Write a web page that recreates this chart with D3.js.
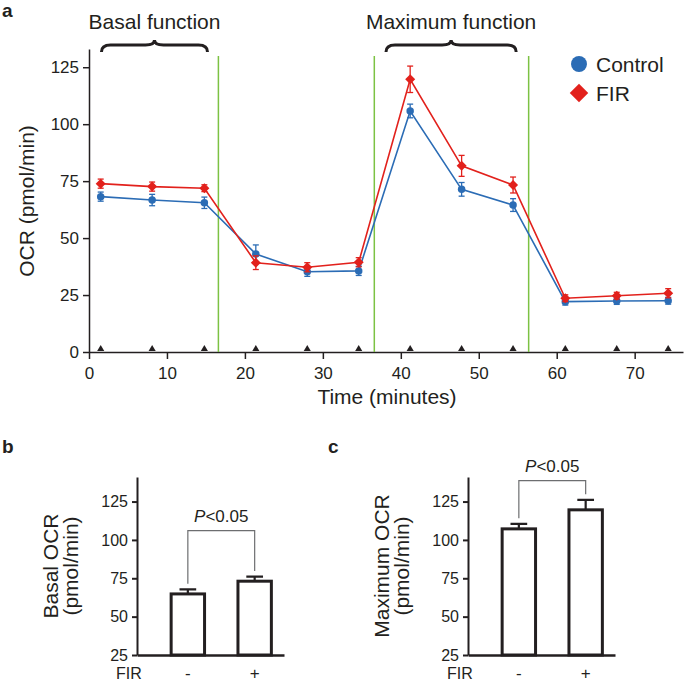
<!DOCTYPE html>
<meta charset="utf-8">
<head>
  <title>OCR time course</title>
</head>

<style>
body { margin: 0; background: white; }
text {
  font-family: Arial, "Liberation Sans", Helvetica, sans-serif;
  fill: #231f20;
}
.axis path, .axis line { stroke: #231f20; }
.axis text { font-size: 16px; fill: #231f20; font-family: Arial, "Liberation Sans", sans-serif; }
</style>

<body>
  <svg width="685" height="682"></svg>

  <script src="https://cdnjs.cloudflare.com/ajax/libs/d3/7.8.5/d3.min.js"></script>
  <script>
// panel a: time course
var times = [1.5, 8.1, 14.8, 21.4, 28.0, 34.6, 41.2, 47.8, 54.4, 61.1, 67.7, 74.3];
var controlOCR = [68.2, 66.7, 65.5, 43.0, 35.2, 35.6, 105.8, 71.4, 64.5, 22.1, 22.4, 22.5];
var controlErr = [2.0, 2.5, 2.5, 4.0, 2.0, 2.0, 3.0, 3.0, 2.8, 1.5, 1.5, 1.5];
var firOCR = [73.9, 72.6, 71.9, 39.2, 37.2, 39.4, 119.7, 81.7, 73.3, 23.6, 24.7, 25.8];
var firErr = [2.0, 2.0, 1.5, 3.0, 2.0, 2.0, 5.8, 4.6, 3.5, 1.5, 1.5, 2.0];
var injections = [16.6, 36.6, 56.4];
var phases = [
  { name: "Basal function", from: 1.6, to: 15.2 },
  { name: "Maximum function", from: 38.1, to: 54.8 }
];
var timeTicks = [0, 10, 20, 30, 40, 50, 60, 70];
var ocrTicks = [0, 25, 50, 75, 100, 125];

// panels b and c
var firGroups = ["-", "+"];
var basalOCR = [64.8, 73.1];
var basalErr = [3.0, 3.0];
var maxOCR = [107.2, 119.6];
var maxErr = [3.3, 6.5];
var barTicks = [25, 50, 75, 100, 125];

var blue = "#2b6cb5", red = "#e2211c", green = "#7cc243", ink = "#231f20";

var svg = d3.select("svg");

// ---------- panel a ----------
var x = d3.scaleLinear().domain([0, 76.2]).range([89, 683]);
var y = d3.scaleLinear().domain([0, 133]).range([352, 49]);

var ga = svg.append("g");

ga.append("g").attr("class", "axis")
  .attr("transform", "translate(0," + y(0) + ")")
  .call(d3.axisBottom(x).tickValues(timeTicks).tickSize(7).tickPadding(8).tickSizeOuter(0))
  .call(function(g) {
    g.selectAll("path, line").attr("stroke-width", 1.5);
    g.selectAll("text").style("font-size", "17px");
  });

ga.append("g").attr("class", "axis")
  .attr("transform", "translate(" + x(0) + ",0)")
  .call(d3.axisLeft(y).tickValues(ocrTicks).tickSize(6).tickPadding(4).tickSizeOuter(0))
  .call(function(g) {
    g.selectAll("path, line").attr("stroke-width", 1.5);
    g.selectAll("text").style("font-size", "17px");
  });

// injection lines
ga.selectAll(".inj").data(injections).enter().append("line")
  .attr("x1", function(d) { return x(d); })
  .attr("x2", function(d) { return x(d); })
  .attr("y1", 56)
  .attr("y2", y(0))
  .attr("stroke", green)
  .attr("stroke-width", 1.5);

// measurement markers on the time axis
ga.selectAll(".tri").data(times).enter().append("path")
  .attr("d", d3.symbol(d3.symbolTriangle, 22))
  .attr("transform", function(d) { return "translate(" + x(d) + "," + (y(0) - 3) + ")"; })
  .attr("fill", ink);

function brace(x1, x2, yy) {
  var xm = (x1 + x2) / 2;
  return "M" + x1 + "," + (yy + 7) +
    "Q" + x1 + "," + yy + " " + (x1 + 9) + "," + yy +
    "L" + (xm - 9) + "," + yy +
    "Q" + xm + "," + yy + " " + xm + "," + (yy - 5) +
    "Q" + xm + "," + yy + " " + (xm + 9) + "," + yy +
    "L" + (x2 - 9) + "," + yy +
    "Q" + x2 + "," + yy + " " + x2 + "," + (yy + 7);
}

ga.selectAll(".brace").data(phases).enter().append("path")
  .attr("d", function(d) { return brace(x(d.from), x(d.to), 45); })
  .attr("fill", "none")
  .attr("stroke", ink)
  .attr("stroke-width", 3);

ga.selectAll(".phase").data(phases).enter().append("text")
  .attr("x", function(d) { return (x(d.from) + x(d.to)) / 2; })
  .attr("y", 29)
  .attr("text-anchor", "middle")
  .style("font-size", "21px")
  .text(function(d) { return d.name; });

function series(values, errs, color, shape) {
  var pts = times.map(function(t, i) { return { t: t, v: values[i], e: errs[i] }; });
  var g = ga.append("g");
  g.append("path")
    .datum(pts)
    .attr("fill", "none")
    .attr("stroke", color)
    .attr("stroke-width", 1.6)
    .attr("d", d3.line().x(function(d) { return x(d.t); }).y(function(d) { return y(d.v); }));
  var eb = g.selectAll(".eb").data(pts).enter().append("g").attr("stroke", color).attr("stroke-width", 1.3);
  eb.append("line")
    .attr("x1", function(d) { return x(d.t); }).attr("x2", function(d) { return x(d.t); })
    .attr("y1", function(d) { return y(d.v - d.e); }).attr("y2", function(d) { return y(d.v + d.e); });
  [-1, 1].forEach(function(s) {
    eb.append("line")
      .attr("x1", function(d) { return x(d.t) - 3; }).attr("x2", function(d) { return x(d.t) + 3; })
      .attr("y1", function(d) { return y(d.v + s * d.e); }).attr("y2", function(d) { return y(d.v + s * d.e); });
  });
  g.selectAll(".pt").data(pts).enter().append("path")
    .attr("d", d3.symbol(shape, shape === d3.symbolCircle ? 44 : 50))
    .attr("transform", function(d) {
      return "translate(" + x(d.t) + "," + y(d.v) + ")" + (shape === d3.symbolSquare ? " rotate(45)" : "");
    })
    .attr("fill", color);
}

series(controlOCR, controlErr, blue, d3.symbolCircle);
series(firOCR, firErr, red, d3.symbolSquare);

// legend
var legend = [
  { name: "Control", color: blue, shape: d3.symbolCircle, size: 200 },
  { name: "FIR", color: red, shape: d3.symbolSquare, size: 170 }
];
var lg = svg.selectAll(".lg").data(legend).enter().append("g")
  .attr("transform", function(d, i) { return "translate(579," + (64 + i * 29) + ")"; });
lg.append("path")
  .attr("d", function(d) { return d3.symbol(d.shape, d.size)(); })
  .attr("transform", function(d) { return d.shape === d3.symbolSquare ? "rotate(45)" : null; })
  .attr("fill", function(d) { return d.color; });
lg.append("text")
  .attr("x", 17).attr("y", 7.5)
  .style("font-size", "21px")
  .text(function(d) { return d.name; });

ga.append("text")
  .attr("transform", "translate(34,201) rotate(-90)")
  .attr("text-anchor", "middle")
  .style("font-size", "21px")
  .text("OCR (pmol/min)");

ga.append("text")
  .attr("x", 387).attr("y", 404)
  .attr("text-anchor", "middle")
  .style("font-size", "21px")
  .text("Time (minutes)");

// panel letters
[["a", 2, 17], ["b", 2, 453], ["c", 328, 453]].forEach(function(l) {
  svg.append("text").attr("x", l[1]).attr("y", l[2])
    .style("font-size", "19px").style("font-weight", "bold").text(l[0]);
});

// ---------- panels b, c ----------
function barPanel(left, values, errs, titleLines, bracketY, pY) {
  var yb = d3.scaleLinear().domain([25, 141]).range([655, 477]);
  var xb = d3.scaleBand().domain(firGroups).range([left, left + 147])
    .paddingInner(0.5).paddingOuter(0.35).align(0.73);
  var g = svg.append("g");

  g.append("g").attr("class", "axis")
    .attr("transform", "translate(" + left + ",0)")
    .call(d3.axisLeft(yb).tickValues(barTicks).tickSize(5).tickPadding(4).tickSizeOuter(0))
    .call(function(a) { a.selectAll("path, line").attr("stroke-width", 2); });

  var data = firGroups.map(function(k, i) { return { k: k, v: values[i], e: errs[i] }; });

  // error bars (upper only)
  g.selectAll(".err").data(data).enter().append("path")
    .attr("d", function(d) {
      var cx = xb(d.k) + xb.bandwidth() / 2, w = xb.bandwidth() / 4;
      return "M" + cx + "," + yb(d.v) + "V" + yb(d.v + d.e) + "M" + (cx - w) + "," + yb(d.v + d.e) + "H" + (cx + w);
    })
    .attr("stroke", ink).attr("stroke-width", 2.2).attr("fill", "none");

  g.selectAll(".bar").data(data).enter().append("rect")
    .attr("x", function(d) { return xb(d.k); })
    .attr("y", function(d) { return yb(d.v); })
    .attr("width", xb.bandwidth())
    .attr("height", function(d) { return yb(25) - yb(d.v); })
    .attr("fill", "white").attr("stroke", ink).attr("stroke-width", 3);

  g.append("g").attr("class", "axis")
    .attr("transform", "translate(0," + yb(25) + ")")
    .call(d3.axisBottom(xb).tickSize(0).tickPadding(12).tickSizeOuter(0))
    .call(function(a) {
      a.select(".domain").attr("stroke-width", 2.5);
      a.selectAll("text").style("font-size", "17px");
    });

  g.append("text").attr("x", left - 21).attr("y", 679)
    .style("font-size", "16px").text("FIR");

  // significance bracket
  var cx0 = xb(firGroups[0]) + xb.bandwidth() / 2, cx1 = xb(firGroups[1]) + xb.bandwidth() / 2;
  var gap = 3.6;
  g.append("path")
    .attr("d", "M" + cx0 + "," + yb(values[0] + errs[0] + gap) + "V" + yb(bracketY) +
      "H" + cx1 + "V" + yb(values[1] + errs[1] + gap))
    .attr("fill", "none").attr("stroke", "#6d6e70").attr("stroke-width", 1.2);
  var pt = g.append("text")
    .attr("x", (cx0 + cx1) / 2).attr("y", yb(pY))
    .attr("text-anchor", "middle").style("font-size", "17px");
  pt.append("tspan").style("font-style", "italic").text("P");
  pt.append("tspan").text("<0.05");

  titleLines.forEach(function(t, i) {
    g.append("text")
      .attr("transform", "translate(" + (left - 79 + i * 20) + ",566) rotate(-90)")
      .attr("text-anchor", "middle")
      .style("font-size", "21px")
      .text(t);
  });
}

barPanel(137, basalOCR, basalErr, ["Basal OCR", "(pmol/min)"], 106, 111.5);
barPanel(468, maxOCR, maxErr, ["Maximum OCR", "(pmol/min)"], 138.7, 144.3);
  </script>
</body>
</html>
